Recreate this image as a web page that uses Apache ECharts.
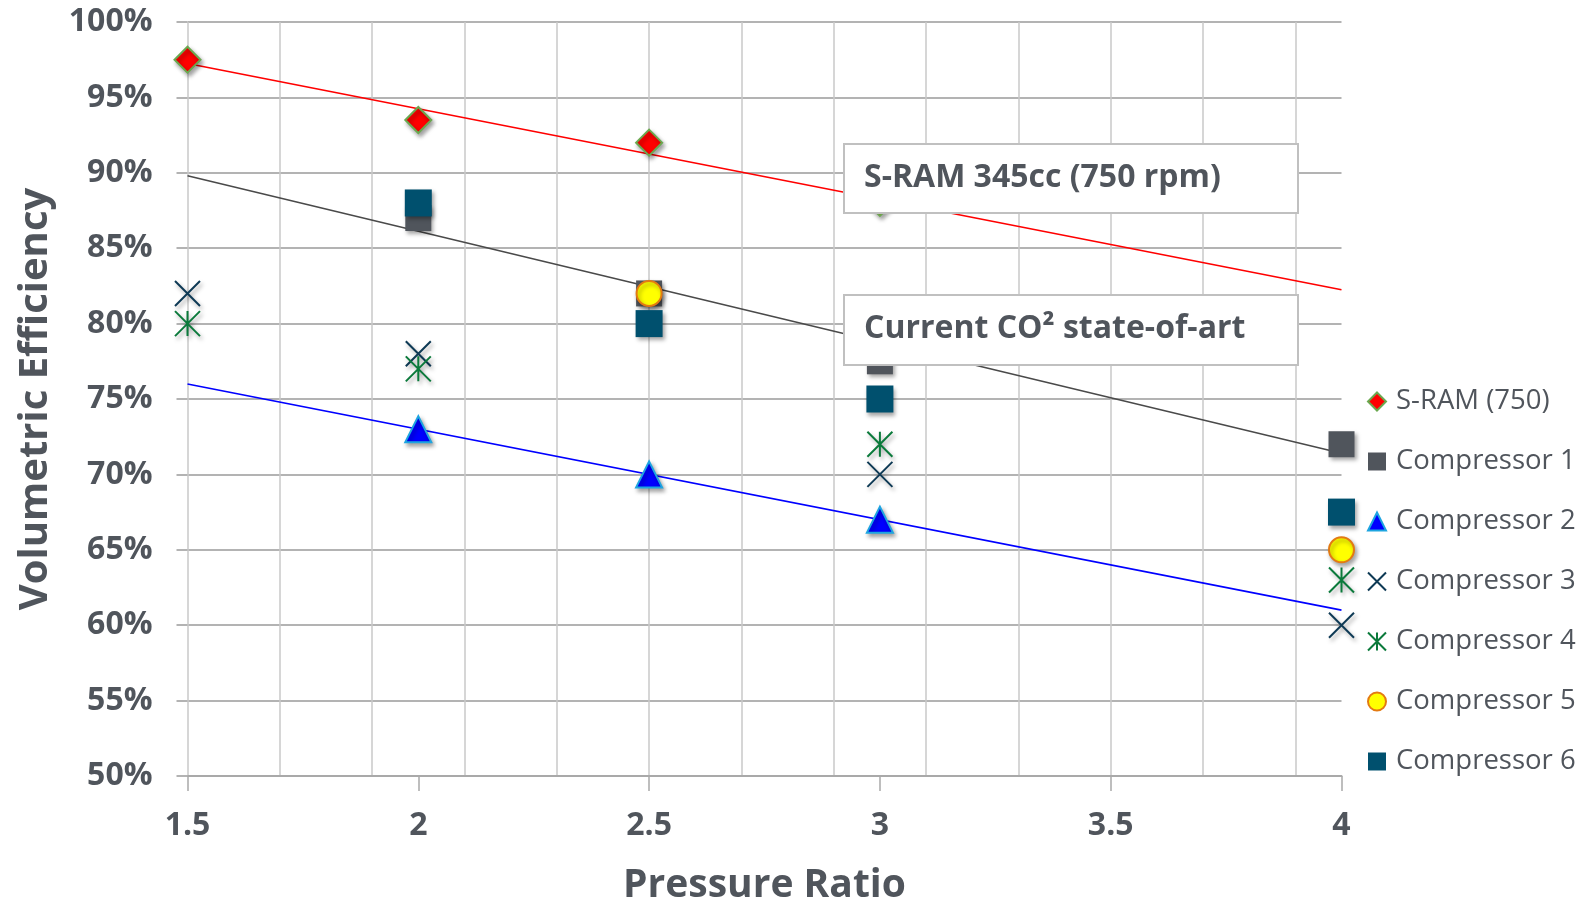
<!DOCTYPE html>
<html>
<head>
<meta charset="utf-8">
<script src="https://cdn.jsdelivr.net/npm/echarts@6/dist/echarts.min.js"></script>
<style>
html,body{margin:0;padding:0;background:#fff;}
#main{width:1585px;height:904px;}
</style>
</head>
<body>
<div id="main"></div>
<script>
// ---- data ----
const seriesNames = ['S-RAM (750)', 'Compressor 1', 'Compressor 2', 'Compressor 3', 'Compressor 4', 'Compressor 5', 'Compressor 6'];
const sramPoints = [[1.5, 97.5], [2, 93.5], [2.5, 92], [3, 88]];
const comp1Points = [[2, 87], [2.5, 82], [3, 77.5], [4, 72]];
const comp2Points = [[2, 73], [2.5, 70], [3, 67]];
const comp3Points = [[1.5, 82], [2, 78], [3, 70], [4, 60]];
const comp4Points = [[1.5, 80], [2, 77], [3, 72], [4, 63]];
const comp5Points = [[2.5, 82], [4, 65]];
const comp6Points = [[2, 88], [2.5, 80], [3, 75], [4, 67.5]];
const sramTrend = [[1.5, 97.25], [4, 82.25]];
const comp1Trend = [[1.5, 89.8], [4, 71.4]];
const comp2Trend = [[1.5, 76], [4, 61]];
const xTitle = 'Pressure Ratio';
const yTitle = 'Volumetric Efficiency';
const note1 = 'S-RAM 345cc (750 rpm)';
const note2 = 'Current CO\u00B2 state-of-art';

const FONT = '"Open Sans", "Noto Sans", sans-serif';
const TXT = '#50555c';
const shadow = {shadowBlur: 4, shadowOffsetX: 2, shadowOffsetY: 3, shadowColor: 'rgba(0,0,0,0.35)'};
const X_PATH = 'path://M0,0L10,10M10,0L0,10';
const AST_PATH = 'path://M0,0L10,10M10,0L0,10M5,0L5,10';

const chart = echarts.init(document.getElementById('main'), null, {renderer: 'canvas'});

function scatter(name, data, symbol, size, itemStyle) {
  return {
    type: 'scatter', name: name, data: data, symbol: symbol, symbolSize: size,
    xAxisIndex: 0, yAxisIndex: 0, z: 3,
    itemStyle: Object.assign({opacity: 1}, shadow, itemStyle)
  };
}
function trend(data, color) {
  return {
    type: 'line', data: data, symbol: 'none', xAxisIndex: 0, yAxisIndex: 0, z: 2,
    lineStyle: {color: color, width: 1.6}, silent: true, tooltip: {show: false}
  };
}
function noteBox(top, h, text) {
  return {
    type: 'group', left: 843, top: top, z: 100,
    children: [
      {type: 'rect', z: 100, shape: {x: 0, y: 0, width: 454, height: h}, style: {fill: '#ffffff', stroke: '#c0c0c0', lineWidth: 2}},
      {type: 'text', z: 101, x: 20, y: h / 2 - 1, style: {text: text, fill: TXT, font: 'bold 32px ' + FONT, verticalAlign: 'middle'}}
    ]
  };
}

const option = {
  animation: false,
  backgroundColor: '#fff',
  textStyle: {fontFamily: FONT},
  grid: {left: 187.5, right: 243.5, top: 22, bottom: 128, containLabel: false, outerBoundsMode: 'none'},
  xAxis: [{
    type: 'value', min: 1.5, max: 4, interval: 0.5,
    name: xTitle, nameLocation: 'middle', nameGap: 90,
    nameTextStyle: {fontFamily: FONT, fontSize: 39, fontWeight: 'bold', color: TXT},
    axisLine: {show: true, lineStyle: {color: '#a9a9a9', width: 2}},
    axisTick: {show: true, length: 15, lineStyle: {color: '#a9a9a9', width: 1.5}},
    axisLabel: {margin: 34, fontFamily: FONT, fontSize: 32, fontWeight: 'bold', color: TXT},
    splitLine: {show: false}
  }, {
    type: 'value', min: 0, max: 2.5, interval: 0.2, position: 'bottom',
    axisLine: {show: false}, axisTick: {show: false}, axisLabel: {show: false},
    splitLine: {show: true, showMaxLine: false, lineStyle: {color: '#c8c8c8', width: 1.5}}
  }],
  yAxis: [{
    type: 'value', min: 50, max: 100, interval: 5,
    name: yTitle, nameLocation: 'middle', nameGap: 132, nameRotate: 90,
    nameTextStyle: {fontFamily: FONT, fontSize: 40, fontWeight: 'bold', color: TXT},
    axisLine: {show: false},
    axisTick: {show: true, length: 11, lineStyle: {color: '#b3b3b3', width: 2}},
    axisLabel: {margin: 35, fontFamily: FONT, fontSize: 32, fontWeight: 'bold', color: TXT, formatter: '{value}%'},
    splitLine: {show: true, lineStyle: {color: '#b3b3b3', width: 2}}
  }],
  legend: {
    orient: 'vertical', left: 1362, top: 381,
    itemWidth: 18, itemHeight: 18, itemGap: 29,
    data: seriesNames,
    textStyle: {fontFamily: FONT, fontSize: 27.5, color: TXT, lineHeight: 31, padding: [0, 0, 0, 5]},
    selectedMode: false
  },
  series: [
    trend(sramTrend, '#ff0000'),
    trend(comp1Trend, '#4a4a4a'),
    trend(comp2Trend, '#0000ff'),
    scatter(seriesNames[0], sramPoints, 'diamond', 26, {color: '#ff0000', borderColor: '#6aa84f', borderWidth: 2}),
    scatter(seriesNames[1], comp1Points, 'rect', 26, {color: '#50555c'}),
    scatter(seriesNames[2], comp2Points, 'triangle', 26, {color: '#0000ff', borderColor: '#1ea5e0', borderWidth: 2}),
    scatter(seriesNames[3], comp3Points, X_PATH, 25, {color: 'rgba(0,0,0,0)', borderColor: '#0e3a55', borderWidth: 2}),
    scatter(seriesNames[4], comp4Points, AST_PATH, 25, {color: 'rgba(0,0,0,0)', borderColor: '#0b7a3b', borderWidth: 2}),
    scatter(seriesNames[5], comp5Points, 'circle', 25, {color: '#ffff00', borderColor: '#e37a12', borderWidth: 2}),
    scatter(seriesNames[6], comp6Points, 'rect', 27, {color: '#00506e'})
  ],
  graphic: [
    noteBox(143, 69, note1),
    noteBox(294, 70, note2)
  ]
};
chart.setOption(option);
</script>
</body>
</html>
